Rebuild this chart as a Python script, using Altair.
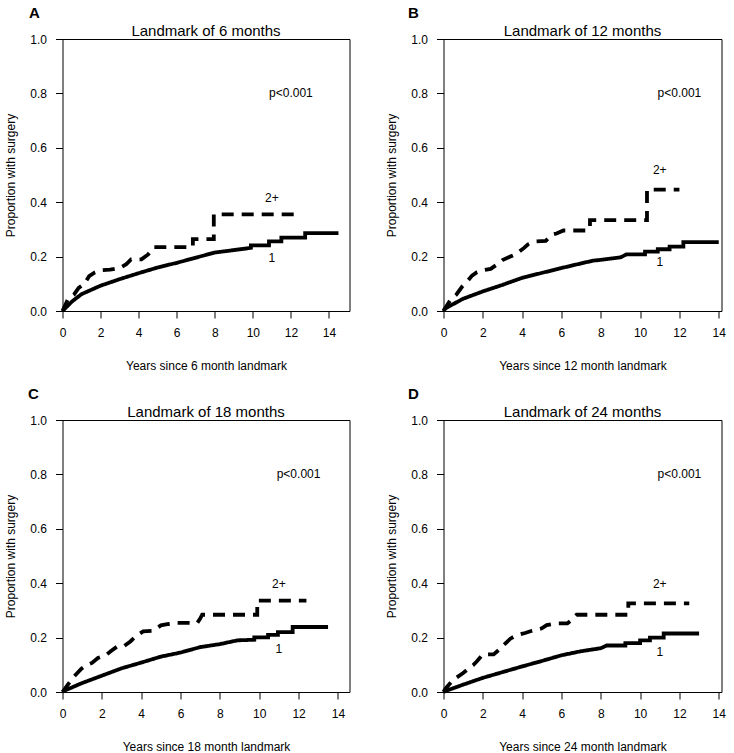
import altair as alt
import pandas as pd

FONT = "Liberation Sans"

# ---------------- panel texts ----------------
letters = ["A", "B", "C", "D"]
titles = ["Landmark of 6 months", "Landmark of 12 months",
          "Landmark of 18 months", "Landmark of 24 months"]
x_titles = ["Years since 6 month landmark", "Years since 12 month landmark",
            "Years since 18 month landmark", "Years since 24 month landmark"]
y_title = "Proportion with surgery"
x_max = [15.08, 14.14, 14.59, 14.14]
x_ticks = [0, 2, 4, 6, 8, 10, 12, 14]
y_ticks = [0.0, 0.2, 0.4, 0.6, 0.8, 1.0]
group_labels = ["1", "2+"]

# ---------------- curves: vertices (years, proportion) ----------------
a1_t = [0, 0.5, 1, 2, 3, 4, 5, 6, 7, 8, 9, 9.9, 9.9, 10.85, 10.85, 11.5, 11.5, 12.75, 12.75, 14.5]
a1_v = [0, 0.035, 0.062, 0.093, 0.117, 0.139, 0.16, 0.177, 0.196, 0.215, 0.224, 0.232, 0.241,
        0.241, 0.256, 0.256, 0.27, 0.27, 0.286, 0.286]
a2_t = [0, 0.3, 0.6, 0.85, 1.15, 1.4, 1.7, 2.0, 2.5, 3.0, 3.35, 3.6, 4.15, 4.5, 4.8, 6.85,
        6.85, 7.95, 7.95, 12.4]
a2_v = [0, 0.045, 0.06, 0.085, 0.1, 0.128, 0.142, 0.15, 0.152, 0.158, 0.172, 0.19, 0.19,
        0.208, 0.235, 0.235, 0.264, 0.264, 0.355, 0.355]

b1_t = [0, 0.1, 1, 2, 3, 4, 5, 6, 7, 7.6, 8, 9, 9.3, 10.25, 10.25, 10.9, 10.9, 11.5, 11.5,
        12.2, 12.2, 14.0]
b1_v = [0, 0.01, 0.045, 0.072, 0.096, 0.122, 0.14, 0.158, 0.175, 0.185, 0.188, 0.197, 0.208,
        0.208, 0.218, 0.218, 0.227, 0.227, 0.237, 0.237, 0.253, 0.253]
b2_t = [0, 0.1, 0.35, 0.65, 0.95, 1.2, 1.45, 1.7, 2.0, 2.4, 2.8, 3.0, 3.4, 3.7, 4.1, 4.3,
        4.6, 5.2, 5.5, 5.75, 6.1, 7.35, 7.45, 7.45, 10.35, 10.35, 12.0]
b2_v = [0, 0.012, 0.04, 0.06, 0.09, 0.108, 0.13, 0.143, 0.15, 0.155, 0.175, 0.187, 0.2, 0.21,
        0.232, 0.245, 0.255, 0.258, 0.28, 0.285, 0.296, 0.296, 0.305, 0.334, 0.334, 0.446,
        0.446]

c1_t = [0, 0.1, 1, 2, 3, 4, 5, 6, 7, 8, 8.9, 9.75, 9.75, 10.45, 10.45, 10.95, 10.95, 11.7,
        11.7, 13.5]
c1_v = [0, 0.005, 0.033, 0.06, 0.087, 0.108, 0.13, 0.145, 0.165, 0.176, 0.19, 0.192, 0.201,
        0.201, 0.21, 0.21, 0.22, 0.22, 0.239, 0.239]
c2_t = [0, 0.1, 0.4, 0.6, 0.95, 1.2, 1.5, 1.8, 2.2, 2.45, 2.8, 3.15, 3.45, 3.75, 4.1, 4.6,
        5.0, 5.4, 5.8, 6.85, 7.0, 7.1, 9.9, 9.9, 12.4]
c2_v = [0, 0.01, 0.04, 0.058, 0.085, 0.098, 0.107, 0.125, 0.135, 0.15, 0.168, 0.17, 0.186,
        0.206, 0.223, 0.225, 0.245, 0.25, 0.254, 0.254, 0.27, 0.284, 0.284, 0.336, 0.336]

d1_t = [0, 0.15, 1, 2, 3, 4, 5, 6, 7, 8, 8.3, 9.25, 9.25, 10.0, 10.0, 10.5, 10.5, 11.2, 11.2,
        13.0]
d1_v = [0, 0.005, 0.027, 0.052, 0.073, 0.094, 0.114, 0.135, 0.15, 0.161, 0.171, 0.171, 0.18,
        0.18, 0.19, 0.19, 0.2, 0.2, 0.215, 0.215]
d2_t = [0, 0.1, 0.4, 0.6, 1.0, 1.27, 1.5, 1.7, 2.0, 2.55, 2.9, 3.05, 3.4, 3.7, 4.15, 4.5,
        5.0, 5.25, 5.75, 6.3, 6.6, 6.77, 9.4, 9.4, 12.5]
d2_v = [0, 0.012, 0.037, 0.05, 0.07, 0.086, 0.098, 0.113, 0.138, 0.138, 0.16, 0.172, 0.196,
        0.208, 0.217, 0.225, 0.234, 0.246, 0.252, 0.252, 0.27, 0.284, 0.284, 0.326, 0.326]

curves = [
    [(a1_t, a1_v), (a2_t, a2_v)],
    [(b1_t, b1_v), (b2_t, b2_v)],
    [(c1_t, c1_v), (c2_t, c2_v)],
    [(d1_t, d1_v), (d2_t, d2_v)],
]

# ---------------- in-plot annotations ----------------
label_x = [11, 11, 11, 11]
label_1_y = [0.196, 0.179, 0.159, 0.147]
label_2p_y = [0.417, 0.518, 0.396, 0.396]
p_text = "p<0.001"
p_x = 12
p_y = 0.8

# ---------------- layout ----------------
widths = [287, 278, 287, 278]
H = 272
letter_dx = [-28, -30, -29, -30]
letter_dy = [-26, -26, -26, -26]


def panel(i):
    rows = []
    for g, (ts, vs) in zip(group_labels, curves[i]):
        for k, (t, v) in enumerate(zip(ts, vs)):
            rows.append({"t": t, "v": v, "group": g, "k": k})
    df = pd.DataFrame(rows)
    w = widths[i]

    xs = alt.Scale(domain=[0, x_max[i]], nice=False, zero=False)
    ys = alt.Scale(domain=[0, 1], nice=False, zero=False)
    xax = alt.Axis(values=x_ticks, format="d", title=x_titles[i], titleX=w / 2,
                   titleY=58, titleBaseline="alphabetic", titleAlign="center",
                   labelFlush=False)
    yax = alt.Axis(values=y_ticks, format=".1f", title=y_title, titleX=-48,
                   titleY=H / 2, titleAngle=270, titleBaseline="alphabetic",
                   titleAlign="center", labelFlush=False)
    X = alt.X("t:Q", scale=xs, axis=xax)
    Y = alt.Y("v:Q", scale=ys, axis=yax)

    lines = alt.Chart(df).mark_line(
        interpolate="linear", color="black", strokeWidth=3.8, strokeCap="butt",
        strokeJoin="miter"
    ).encode(
        x=X, y=Y, order="k:Q",
        strokeDash=alt.StrokeDash("group:N",
                                  scale=alt.Scale(domain=group_labels,
                                                  range=[[1, 0], [12, 8]]),
                                  legend=None),
    )

    ann = pd.DataFrame({
        "t": [label_x[i], label_x[i], p_x],
        "v": [label_1_y[i], label_2p_y[i], p_y],
        "txt": [group_labels[0], group_labels[1], p_text],
    })
    texts = alt.Chart(ann).mark_text(
        font=FONT, fontSize=12, color="black", align="center", baseline="middle"
    ).encode(x=X, y=Y, text="txt:N")

    head = pd.DataFrame({"letter": [letters[i]], "title": [titles[i]]})
    letter = alt.Chart(head).mark_text(
        font=FONT, fontSize=15, fontWeight="bold", color="black",
        align="center", baseline="middle"
    ).encode(x=alt.value(letter_dx[i]), y=alt.value(letter_dy[i]), text="letter:N")
    title = alt.Chart(head).mark_text(
        font=FONT, fontSize=15, color="black", align="center", baseline="alphabetic"
    ).encode(x=alt.value(w / 2), y=alt.value(-3), text="title:N")

    return alt.layer(lines, texts, letter, title).properties(width=w, height=H)


chart = alt.concat(
    *[panel(i) for i in range(4)],
    columns=2,
    spacing={"row": 109, "column": 94},
    bounds="flush",
).properties(
    padding={"left": 3.5, "top": 5, "right": 5, "bottom": 0},
    background="white",
).configure_axis(
    labelFont=FONT, titleFont=FONT, labelFontSize=12, titleFontSize=12,
    titleFontWeight="normal", labelColor="black", titleColor="black",
    tickColor="black", tickSize=7, tickWidth=1, labelPadding=9,
    grid=False, domain=False,
).configure_view(stroke="black", strokeWidth=1)

chart.save("out.html", embed_options={"renderer": "svg", "actions": False})
